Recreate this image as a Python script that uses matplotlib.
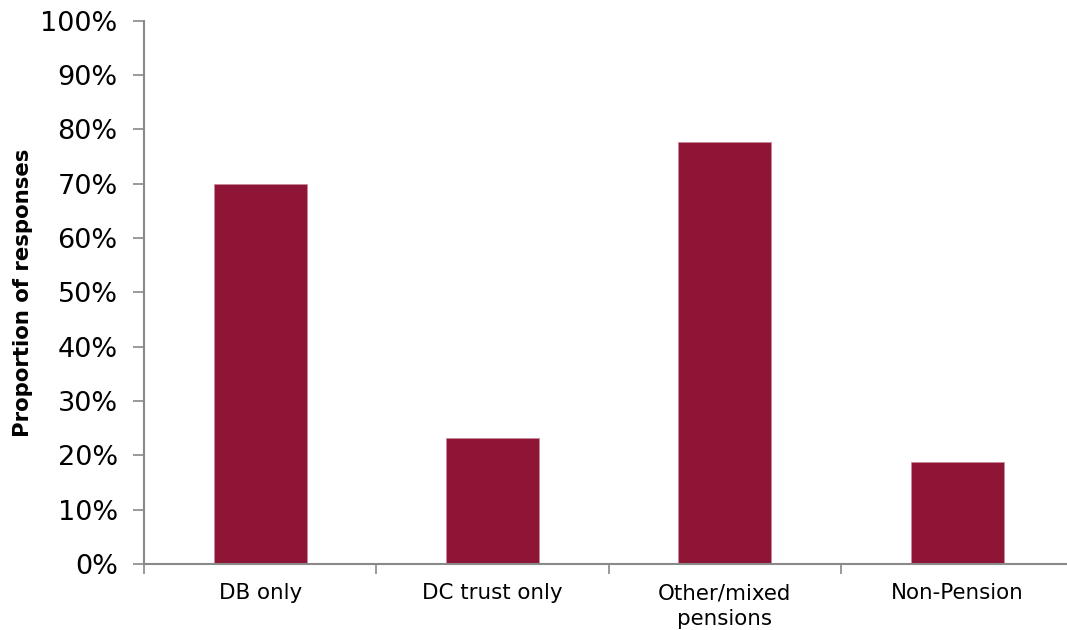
import matplotlib
matplotlib.use('Agg')
import matplotlib.pyplot as plt
from matplotlib.ticker import FixedLocator, PercentFormatter

categories = ['DB only', 'DC trust only', 'Other/mixed\npensions', 'Non-Pension']
values = [70.0, 23.1, 77.7, 18.7]
yticks = list(range(0, 101, 10))

BAR = '#8E1536'
SPINE = '#898989'

fig = plt.figure(figsize=(10.67, 6.3), dpi=100)
ax = fig.add_axes([0.135, 0.105, 0.871, 0.862])

x = range(len(categories))
ax.bar(x, values, width=0.40, color=BAR, edgecolor='#C98A9A', linewidth=0.6)

ax.set_xlim(-0.5, len(categories) - 0.5)
ax.set_ylim(0, 100)
ax.set_yticks(yticks)
ax.yaxis.set_major_formatter(PercentFormatter(decimals=0))
ax.tick_params(axis='y', labelsize=19.5, length=8, width=1.2, color=SPINE, pad=11)

# category labels at centres, ticks at boundaries
ax.set_xticks(list(x))
ax.set_xticklabels(categories, fontsize=15.4, linespacing=1.35)
ax.tick_params(axis='x', which='major', length=0, pad=14)
ax.xaxis.set_minor_locator(FixedLocator([i - 0.5 for i in range(len(categories) + 1)]))
ax.tick_params(axis='x', which='minor', length=7, width=1.2, color=SPINE)

for s in ['top', 'right']:
    ax.spines[s].set_visible(False)
for s in ['left', 'bottom']:
    ax.spines[s].set_color(SPINE)
    ax.spines[s].set_linewidth(1.5)

ax.set_ylabel('Proportion of responses', fontsize=15.3, fontweight='bold', labelpad=5)

fig.savefig('out.png', dpi=100)
